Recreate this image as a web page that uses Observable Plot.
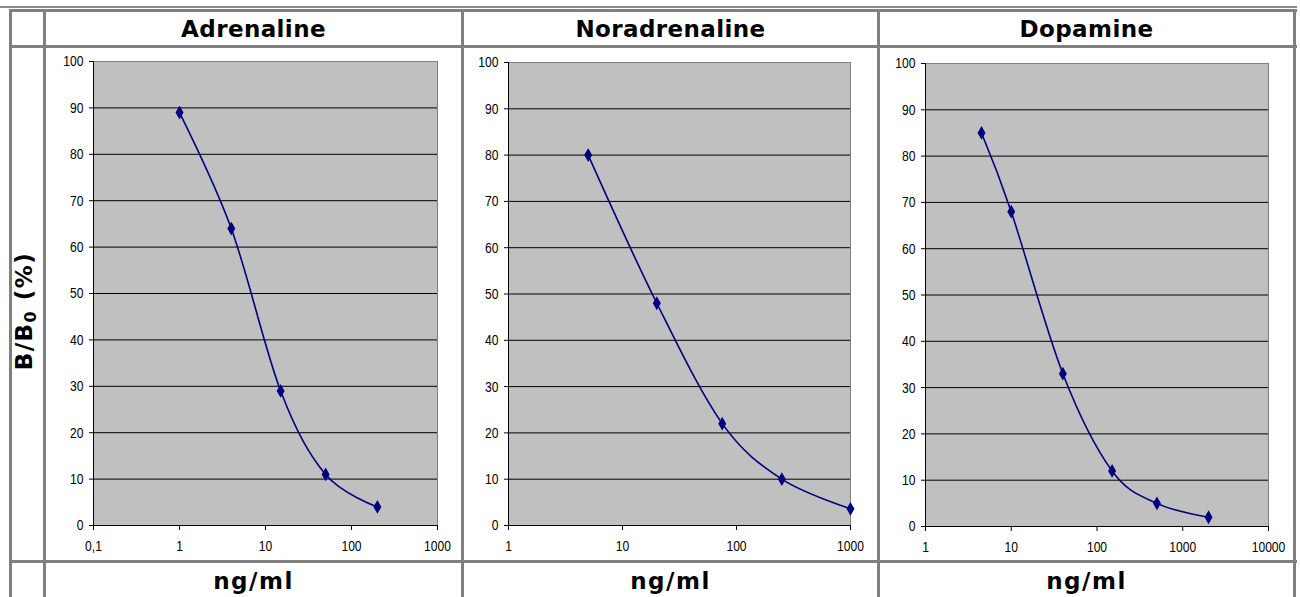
<!DOCTYPE html>
<html>
<head>
<meta charset="utf-8">
<script src="https://cdn.jsdelivr.net/npm/d3@7"></script>
<script src="https://cdn.jsdelivr.net/npm/@observablehq/plot@0.6"></script>
<style>
  html, body { margin: 0; padding: 0; background: #fff; }
  #wrap { position: relative; width: 1300px; height: 597px; overflow: hidden; background: #fff; }
  .ln { position: absolute; background: #808080; }
  .title { position: absolute; text-align: center; font-family: "DejaVu Sans", Verdana, sans-serif; font-weight: bold; font-size: 23px; line-height: 23px; letter-spacing: 0.4px; color: #000; white-space: nowrap; }
  .unit { letter-spacing: 1.5px; }
  .ylab { position: absolute; font-family: "DejaVu Sans", Verdana, sans-serif; font-weight: bold; font-size: 23px; line-height: 23px; letter-spacing: 1.5px; color: #000; white-space: nowrap; transform: translate(-50%, -50%) rotate(-90deg); }
  .ylab sub { font-size: 16px; vertical-align: -4px; }
  .panel { position: absolute; }
</style>
</head>
<body>
<div id="wrap"></div>
<script>
// ---- data ----
const panelTitles = ["Adrenaline", "Noradrenaline", "Dopamine"];
const xAxisTitle = "ng/ml";

const adrenalineConc = [1, 4, 15, 50, 200];
const adrenalineBB0 = [89, 64, 29, 11, 4];

const noradrenalineConc = [5, 20, 75, 250, 1000];
const noradrenalineBB0 = [80, 48, 22, 10, 3.6];

const dopamineConc = [4.5, 10, 40, 150, 500, 2000];
const dopamineBB0 = [85, 68, 33, 12, 5, 2];

const adrenalineXTicks = [0.1, 1, 10, 100, 1000];
const noradrenalineXTicks = [1, 10, 100, 1000];
const dopamineXTicks = [1, 10, 100, 1000, 10000];
const yTicks = [0, 10, 20, 30, 40, 50, 60, 70, 80, 90, 100];
const yGrid = [10, 20, 30, 40, 50, 60, 70, 80, 90];

// ---- table layout ----
const wrap = document.getElementById("wrap");
function line(x, y, w, h, c) {
  const d = document.createElement("div");
  d.className = "ln";
  d.style.left = x + "px"; d.style.top = y + "px";
  d.style.width = w + "px"; d.style.height = h + "px";
  if (c) d.style.background = c;
  wrap.appendChild(d);
}
line(0, 6, 1297, 2, "#8c8c8c");
line(9, 9, 1288, 3);
line(9, 45, 1288, 3);
line(9, 560, 1288, 3);
line(9, 9, 3, 600);
line(43, 9, 3, 600);
line(461, 9, 3, 600);
line(877, 9, 3, 600);
line(1293, 9, 3, 600);

const cols = [[46, 415], [464, 413], [880, 413]];
panelTitles.forEach((t, i) => {
  const d = document.createElement("div");
  d.className = "title";
  d.style.left = cols[i][0] + "px"; d.style.width = cols[i][1] + "px";
  d.style.top = "18px";
  d.textContent = t;
  wrap.appendChild(d);
  const b = document.createElement("div");
  b.className = "title unit";
  b.style.left = cols[i][0] + "px"; b.style.width = cols[i][1] + "px";
  b.style.top = "570px";
  b.textContent = xAxisTitle;
  wrap.appendChild(b);
});
const yl = document.createElement("div");
yl.className = "ylab";
yl.style.left = "27px"; yl.style.top = "311px";
yl.innerHTML = "B/B<sub>0</sub> (%)";
wrap.appendChild(yl);

// ---- plots ----
const fmt = d => String(d).replace(".", ",");
function condense(svg, s) {
  svg.querySelectorAll('g[aria-label$="tick label"] text').forEach(t => {
    const tr = t.getAttribute("transform");
    if (tr) {
      t.setAttribute("transform", tr + ` scale(${s},1)`);
    } else {
      const x = +(t.getAttribute("x") || 0);
      t.setAttribute("transform", `translate(${x},0) scale(${s},1) translate(${-x},0)`);
    }
  });
}
function panel(conc, vals, xTicks, box) {
  const data = conc.map((c, i) => ({c, v: vals[i]}));
  const xmin = xTicks[0], xmax = xTicks[xTicks.length - 1];
  const p = Plot.plot({
    width: box.w, height: box.h,
    marginLeft: box.ml, marginRight: box.mr, marginTop: box.mt, marginBottom: box.mb,
    style: {fontFamily: '"Liberation Sans", Arial, sans-serif', fontSize: "15.5px", background: "transparent", color: "#000"},
    x: {type: "log", domain: [xmin, xmax]},
    y: {domain: [0, 100]},
    marks: [
      Plot.frame({fill: "#c0c0c0", stroke: "#808080"}),
      Plot.ruleY(yGrid, {stroke: "#000", strokeWidth: 1}),
      Plot.ruleX([xmin], {stroke: "#000"}),
      Plot.ruleY([0], {stroke: "#000"}),
      Plot.axisY({ticks: yTicks, tickSize: 4, tickPadding: 6, label: null, fontSize: 15.5}),
      Plot.axisX({ticks: xTicks, tickSize: 5, tickPadding: 9, tickFormat: fmt, label: null, fontSize: 15.5}),
      Plot.line(data, {x: "c", y: "v", curve: "cardinal", stroke: "#000080", strokeWidth: 1.6}),
      Plot.dot(data, {x: "c", y: "v", symbol: "diamond", r: 3.4, fill: "#000080", stroke: "#000080", strokeWidth: 1.3})
    ]
  });
  condense(p, 0.78);
  p.classList.add("panel");
  p.style.left = box.x + "px";
  p.style.top = box.y + "px";
  wrap.appendChild(p);
}
panel(adrenalineConc, adrenalineBB0, adrenalineXTicks, {x: 46, y: 48, w: 415, h: 512, ml: 47, mr: 24, mt: 13, mb: 35});
panel(noradrenalineConc, noradrenalineBB0, noradrenalineXTicks, {x: 464, y: 48, w: 413, h: 512, ml: 44, mr: 27, mt: 14, mb: 35});
panel(dopamineConc, dopamineBB0, dopamineXTicks, {x: 880, y: 48, w: 413, h: 512, ml: 45, mr: 25, mt: 15, mb: 34});
</script>
</body>
</html>
